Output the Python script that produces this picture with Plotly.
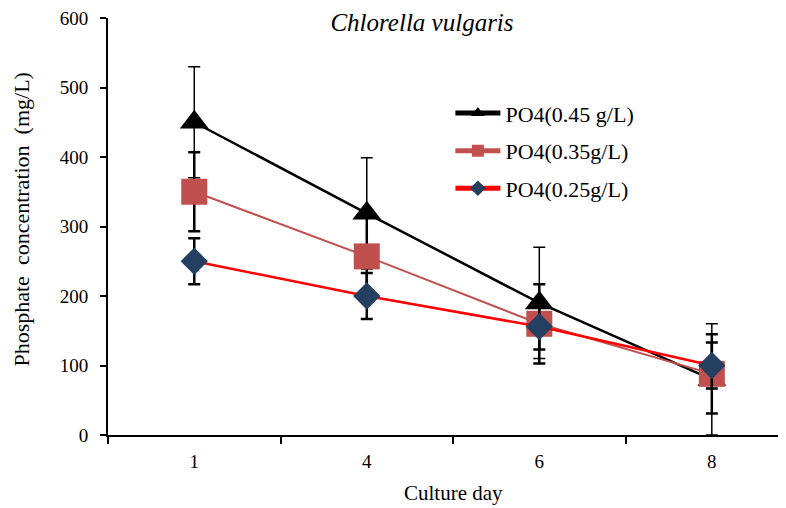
import plotly.graph_objects as go

days = ["1", "4", "6", "8"]
names = ["PO4(0.45 g/L)", "PO4(0.35g/L)", "PO4(0.25g/L)"]
po4_045 = [450, 319, 190, 80]
po4_035 = [350, 257, 160, 88]
po4_025 = [250, 200, 156, 100]
err_045 = [80, 80, 80, 80]
err_035 = [57, 57, 57, 57]
err_025 = [33, 33, 33, 33]
y_ticks = [0, 100, 200, 300, 400, 500, 600]

FONT = "Liberation Serif"

series = [
    (names[0], po4_045, err_045, "black", 2.5, "triangle-up", 25, "black", 1.5),
    (names[1], po4_035, err_035, "#C0504D", 2, "square", 26, "#C0504D", 2.5),
    (names[2], po4_025, err_025, "#FF0000", 2.5, "diamond", 21, "#243F60", 2.5),
]

fig = go.Figure()
for i, (nm, vals, errs, lc, lw, sym, ms, mc, ew) in enumerate(series):
    fig.add_trace(go.Scatter(
        x=days, y=vals, name=nm, mode="lines+markers",
        line=dict(color=lc, width=lw),
        marker=dict(symbol=sym, size=ms, color=mc, line=dict(width=0)),
        error_y=dict(type="data", array=errs, visible=True, color="black",
                     thickness=ew, width=6),
        legendgroup=str(i), cliponaxis=False,
    ))

W, H = 778, 500  # page body has an 8px margin
fig.update_layout(
    width=W, height=H,
    margin=dict(l=100, r=0, t=7, b=73),
    plot_bgcolor="white", paper_bgcolor="white",
    font=dict(family=FONT, size=18, color="black"),
    title=dict(text="<i>Chlorella vulgaris</i>", x=(422 - 8) / W, xanchor="center",
               y=1 - (22 - 8) / H, yanchor="middle",
               font=dict(family=FONT, size=25, color="black")),
    showlegend=True,
    legend=dict(x=0.505, y=0.822, xanchor="left", yanchor="top",
                font=dict(family=FONT, size=22, color="black"),
                bgcolor="rgba(0,0,0,0)", itemwidth=45,
                traceorder="grouped", tracegroupgap=6, itemsizing="constant"),
    xaxis=dict(type="category", range=[-0.5, 3.43], showline=True, linecolor="black",
               linewidth=2, ticks="outside", tickson="boundaries", ticklen=7,
               tickwidth=1.5, tickcolor="black", showgrid=False, zeroline=False,
               ticklabelstandoff=8, ticklabeloverflow="allow",
               tickfont=dict(family=FONT, size=19, color="black")),
    yaxis=dict(range=[0, 600], tickvals=y_ticks, showline=True, linecolor="black",
               linewidth=2, ticks="outside", ticklen=6, tickwidth=1.5,
               tickcolor="black", showgrid=False, zeroline=False,
               ticklabelstandoff=8, ticklabeloverflow="allow",
               tickfont=dict(family=FONT, size=19, color="black")),
    annotations=[
        dict(text="Phosphate  concentration  (mg/L)", xref="paper", yref="paper",
             x=(22 - 108) / 678, y=(435 - 218) / 420, xanchor="center",
             yanchor="middle", textangle=-90, showarrow=False,
             font=dict(family=FONT, size=22, color="black")),
        dict(text="Culture day", xref="paper", yref="paper",
             x=(453 - 108) / 678, y=(435 - 493) / 420, xanchor="center",
             yanchor="middle", showarrow=False,
             font=dict(family=FONT, size=21, color="black")),
    ],
)

fig.write_html("out.html")
